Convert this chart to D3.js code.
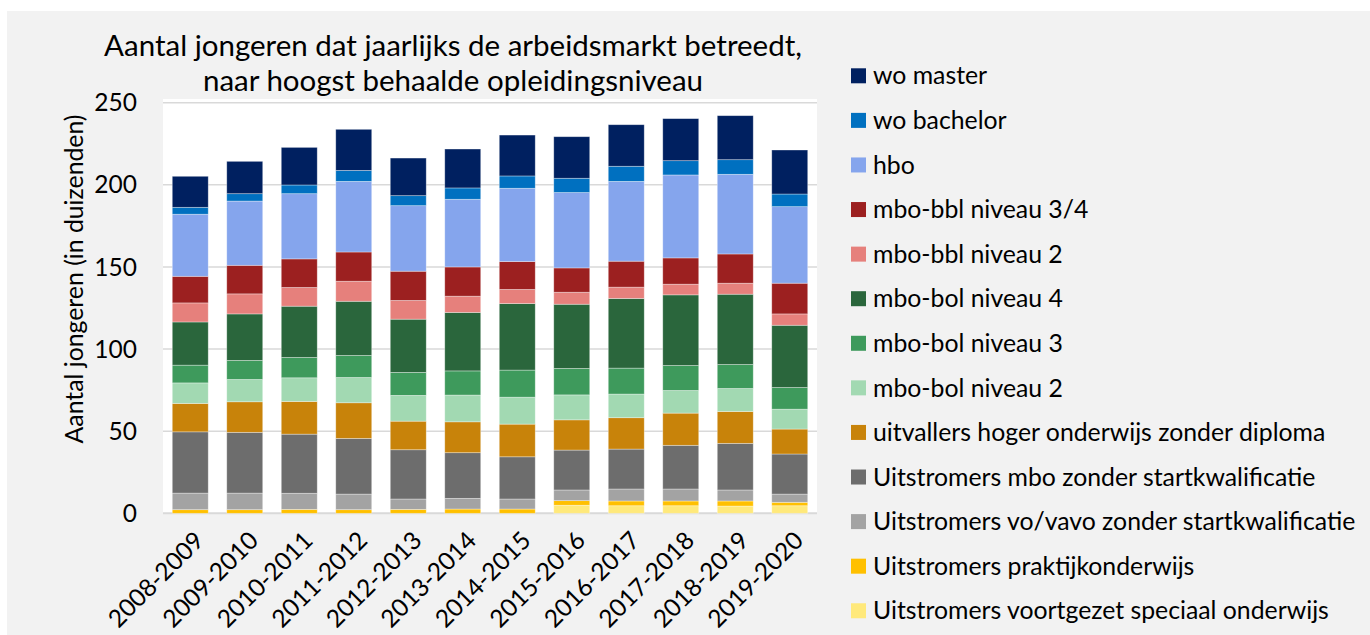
<!DOCTYPE html>
<html>
<head>
<meta charset="utf-8">
<script src="https://cdn.jsdelivr.net/npm/d3@7"></script>
<style>
  html, body { margin: 0; padding: 0; background: #ffffff; }
  svg { display: block; font-family: Lato, "Open Sans", sans-serif; }
</style>
</head>
<body>
<svg width="1370" height="635"></svg>
<script>
// years on the x axis
const years = ["2008-2009", "2009-2010", "2010-2011", "2011-2012", "2012-2013", "2013-2014",
  "2014-2015", "2015-2016", "2016-2017", "2017-2018", "2018-2019", "2019-2020"];

// series, bottom of the stack first (in thousands)
const seriesNames = [
  "Uitstromers voortgezet speciaal onderwijs",
  "Uitstromers praktijkonderwijs",
  "Uitstromers vo/vavo zonder startkwalificatie",
  "Uitstromers mbo zonder startkwalificatie",
  "uitvallers hoger onderwijs zonder diploma",
  "mbo-bol niveau 2",
  "mbo-bol niveau 3",
  "mbo-bol niveau 4",
  "mbo-bbl niveau 2",
  "mbo-bbl niveau 3/4",
  "hbo",
  "wo bachelor",
  "wo master"
];
const seriesColors = ["#ffe97b", "#ffc000", "#a3a3a3", "#6d6d6d", "#c8830a", "#a2d9b2", "#3e9a5c",
  "#2a663c", "#e6807c", "#9c2020", "#85a5ed", "#0070c0", "#002060"];

const vso       = [0, 0, 0, 0, 0, 0, 0, 4.9, 4.6, 4.6, 4.4, 4.6];
const praktijk  = [2.2, 2.2, 2.4, 2.2, 2.4, 2.6, 2.6, 2.8, 2.9, 2.9, 3.1, 2.1];
const vovavo    = [10.1, 10.1, 9.8, 9.5, 6.3, 6.5, 6.1, 6.5, 7.3, 7.3, 6.7, 5.0];
const mboZonder = [37.3, 37.0, 36.0, 33.9, 30.0, 27.8, 25.7, 24.3, 24.3, 26.6, 28.4, 24.4];
const uitval    = [17.3, 18.6, 19.9, 21.7, 17.4, 18.8, 19.9, 18.4, 19.1, 19.6, 19.4, 15.2];
const bol2      = [12.5, 13.6, 14.4, 15.4, 15.7, 16.3, 16.4, 15.2, 14.4, 13.8, 14.0, 12.1];
const bol3      = [10.8, 11.6, 12.4, 13.4, 14.0, 14.7, 16.5, 16.1, 15.8, 15.2, 14.6, 13.2];
const bol4      = [26.3, 28.3, 31.2, 33.0, 32.4, 35.6, 40.5, 39.1, 42.4, 43.0, 42.8, 37.9];
const bbl2      = [11.6, 12.2, 11.4, 12.2, 11.4, 9.9, 8.6, 7.3, 6.9, 6.5, 6.7, 6.9];
const bbl34     = [16.2, 17.4, 17.4, 17.8, 17.8, 17.8, 17.0, 14.8, 15.8, 16.0, 17.8, 18.7];
const hbo       = [37.8, 39.1, 39.7, 43.0, 39.9, 41.2, 44.6, 45.9, 48.6, 50.5, 48.5, 46.6];
const woBach    = [4.2, 4.5, 5.3, 6.7, 6.1, 6.9, 7.5, 8.7, 9.2, 8.7, 8.9, 7.7];
const woMaster  = [18.9, 19.7, 22.9, 25.0, 22.9, 23.7, 24.9, 25.3, 25.3, 25.6, 26.8, 26.8];

const yTicks = [0, 50, 100, 150, 200, 250];

const seriesValues = [vso, praktijk, vovavo, mboZonder, uitval, bol2, bol3, bol4, bbl2, bbl34, hbo, woBach, woMaster];

// table for d3.stack
const table = years.map((y, i) => {
  const row = { year: y };
  seriesNames.forEach((s, k) => { row[s] = seriesValues[k][i]; });
  return row;
});

const svg = d3.select("svg");

// chart background
svg.append("rect")
  .attr("x", 7).attr("y", 11)
  .attr("width", 1363).attr("height", 624)
  .attr("fill", "#f2f2f2");

const plot = { left: 163, right: 817, top: 99, bottom: 513.3 };

const x = d3.scaleBand()
  .domain(years)
  .range([plot.left, plot.right])
  .paddingInner(0.34)
  .paddingOuter(0.17);

const y = d3.scaleLinear()
  .domain([0, 250])
  .range([513.3, 102.7]);

// plot area
svg.append("rect")
  .attr("x", plot.left).attr("y", plot.top)
  .attr("width", plot.right - plot.left).attr("height", plot.bottom - plot.top)
  .attr("fill", "#ffffff");

// gridlines
svg.append("g")
  .selectAll("line")
  .data(yTicks)
  .join("line")
    .attr("x1", plot.left).attr("x2", plot.right)
    .attr("y1", d => y(d)).attr("y2", d => y(d))
    .attr("stroke", "#d9d9d9")
    .attr("stroke-width", d => d === 0 ? 2 : 1.5);

// y tick labels
svg.append("g")
  .selectAll("text")
  .data(yTicks)
  .join("text")
    .attr("x", 137)
    .attr("y", d => y(d))
    .attr("dy", "0.35em")
    .attr("text-anchor", "end")
    .attr("font-size", 24.5)
    .attr("fill", "#000")
    .text(d => d);

// y axis title
svg.append("text")
  .attr("transform", "translate(83,279) rotate(-90)")
  .attr("text-anchor", "middle")
  .attr("font-size", 24.8)
  .attr("fill", "#000")
  .text("Aantal jongeren (in duizenden)");

// stacked bars
const stacked = d3.stack().keys(seriesNames)(table);
const color = d3.scaleOrdinal().domain(seriesNames).range(seriesColors);

svg.append("g")
  .selectAll("g")
  .data(stacked)
  .join("g")
    .attr("fill", d => color(d.key))
  .selectAll("rect")
  .data(d => d)
  .join("rect")
    .attr("x", d => x(d.data.year))
    .attr("width", x.bandwidth())
    .attr("y", d => y(d[1]))
    .attr("height", d => Math.max(0, y(d[0]) - y(d[1])))
    .attr("stroke", "rgba(255,255,255,0.45)")
    .attr("stroke-width", d => d[1] - d[0] > 0 ? 0.75 : 0);

// x labels
svg.append("g")
  .selectAll("text")
  .data(years)
  .join("text")
    .attr("transform", d => `translate(${x(d) + x.bandwidth() / 2 + 9},${536}) rotate(-45)`)
    .attr("text-anchor", "end")
    .attr("dy", "0.35em")
    .attr("font-size", 24.5)
    .attr("fill", "#000")
    .text(d => d);

// title
const title = svg.append("text")
  .attr("text-anchor", "middle")
  .attr("font-size", 29.5)
  .attr("fill", "#000");
title.append("tspan").attr("x", 453).attr("y", 55.5)
  .text("Aantal jongeren dat jaarlijks de arbeidsmarkt betreedt,");
title.append("tspan").attr("x", 453).attr("y", 91)
  .text("naar hoogst behaalde opleidingsniveau");

// legend, top entry is the top of the stack
const legendNames = seriesNames.slice().reverse();
const legend = svg.append("g")
  .selectAll("g")
  .data(legendNames)
  .join("g")
    .attr("transform", (d, i) => `translate(851,${75.8 + i * 44.58})`);

legend.append("rect")
  .attr("x", 0).attr("y", -7.5)
  .attr("width", 15).attr("height", 15)
  .attr("fill", d => color(d));

legend.append("text")
  .attr("x", 22)
  .attr("dy", "0.35em")
  .attr("font-size", 24.8)
  .attr("fill", "#000")
  .text(d => d);
</script>
</body>
</html>
